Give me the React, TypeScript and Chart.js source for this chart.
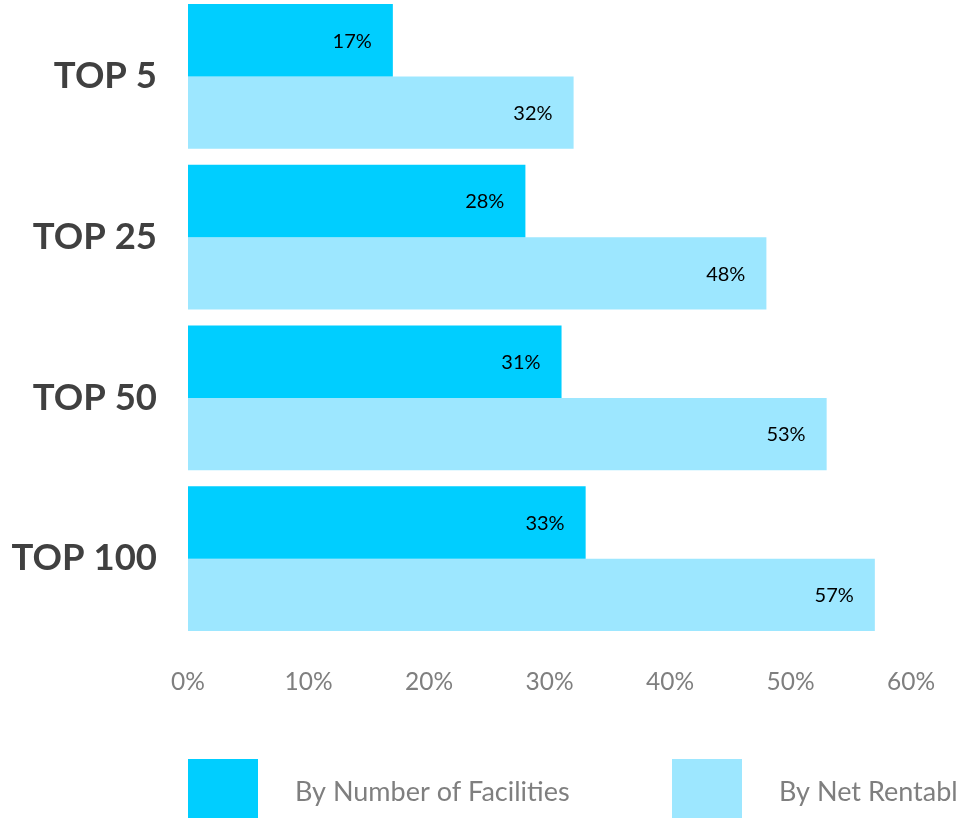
import React, { useEffect, useRef } from "react";
import { Chart, registerables } from "chart.js";

Chart.register(...registerables);

const categories = ["TOP 5", "TOP 25", "TOP 50", "TOP 100"];
const seriesNames = ["By Number of Facilities", "By Net Rentable Square Feet"];
const facilities = [17, 28, 31, 33];
const netRentable = [32, 48, 53, 57];
const xTickValues = [0, 10, 20, 30, 40, 50, 60];
const seriesColors = ["#00CEFF", "#9DE7FF"];

const FONT = "Lato, 'Open Sans', sans-serif";

const dataLabelPlugin = {
  id: "dataLabels",
  afterDatasetsDraw(chart: any) {
    const ctx = chart.ctx;
    ctx.save();
    ctx.font = `20px ${FONT}`;
    ctx.fillStyle = "#000000";
    ctx.textAlign = "right";
    ctx.textBaseline = "middle";
    chart.data.datasets.forEach((ds: any, di: number) => {
      const meta = chart.getDatasetMeta(di);
      meta.data.forEach((bar: any, i: number) => {
        ctx.fillText(`${ds.data[i]}%`, bar.x - 21, bar.y + 1);
      });
    });
    ctx.restore();
  },
};

const legendPlugin = {
  id: "customLegend",
  afterDraw(chart: any) {
    const ctx = chart.ctx;
    const left = chart.chartArea.left;
    const boxTop = chart.height - 59;
    const itemX = [left, left + 484];
    ctx.save();
    ctx.font = `27px ${FONT}`;
    ctx.textAlign = "left";
    ctx.textBaseline = "middle";
    chart.data.datasets.forEach((ds: any, di: number) => {
      const x = itemX[di];
      ctx.fillStyle = ds.backgroundColor;
      ctx.fillRect(x, boxTop, 70, 60);
      ctx.fillStyle = "#7F7F7F";
      ctx.fillText(ds.label, x + 70 + 37, boxTop + 33);
    });
    ctx.restore();
  },
};

export default function App() {
  const canvasRef = useRef<HTMLCanvasElement | null>(null);

  useEffect(() => {
    if (!canvasRef.current) return;
    const chart = new Chart(canvasRef.current, {
      type: "bar",
      data: {
        labels: categories,
        datasets: [
          {
            label: seriesNames[0],
            data: facilities,
            backgroundColor: seriesColors[0],
            categoryPercentage: 0.9,
            barPercentage: 1.0,
          },
          {
            label: seriesNames[1],
            data: netRentable,
            backgroundColor: seriesColors[1],
            categoryPercentage: 0.9,
            barPercentage: 1.0,
          },
        ],
      },
      options: {
        indexAxis: "y",
        animation: false,
        responsive: false,
        maintainAspectRatio: false,
        layout: { padding: { left: 0, right: 46, top: 0, bottom: 0 } },
        plugins: {
          legend: { display: false },
          tooltip: { enabled: false },
        },
        scales: {
          x: {
            min: 0,
            max: 60,
            afterBuildTicks(scale: any) {
              scale.ticks = xTickValues.map((v) => ({ value: v }));
            },
            afterFit(scale: any) {
              scale.height = 179;
              scale.paddingLeft = 0;
              scale.paddingRight = 0;
            },
            grid: { display: false, drawTicks: false },
            border: { display: false },
            ticks: {
              padding: 28,
              color: "#7F7F7F",
              font: { family: FONT, size: 24.5 },
              callback: (v: any) => `${v}%`,
            },
          },
          y: {
            afterFit(scale: any) {
              scale.width = 188;
              scale.paddingTop = 0;
              scale.paddingBottom = 0;
            },
            grid: { display: false, drawTicks: false },
            border: { display: false },
            ticks: {
              padding: 31,
              color: "#404040",
              font: { family: FONT, size: 36.5, weight: "bold" },
            },
          },
        },
      },
      plugins: [dataLabelPlugin, legendPlugin],
    });
    return () => chart.destroy();
  }, []);

  return (
    <div
      style={{
        position: "absolute",
        left: 0,
        top: -4,
        width: 957,
        height: 822,
        background: "#ffffff",
      }}
    >
      <canvas ref={canvasRef} width={957} height={822} style={{ display: "block" }} />
    </div>
  );
}
